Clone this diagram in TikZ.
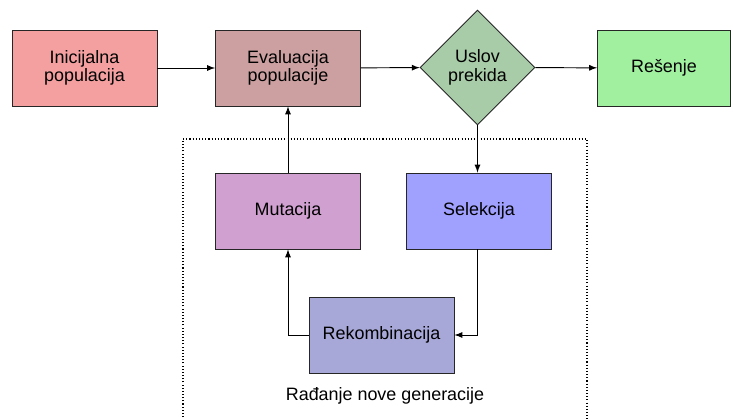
\documentclass[tikz,border=0pt]{standalone}
\usepackage{fontspec}
\setmainfont{Liberation Sans}
\usepackage{tikz}
\usetikzlibrary{shapes.geometric}

\definecolor{inicol}{HTML}{F4A0A0}
\definecolor{evalcol}{HTML}{CCA0A0}
\definecolor{uslovcol}{HTML}{A8CCA8}
\definecolor{rescol}{HTML}{A0F0A0}
\definecolor{mutcol}{HTML}{D0A0D0}
\definecolor{selcol}{HTML}{A0A0FF}
\definecolor{rekcol}{HTML}{A8A8D8}

\begin{document}
\begin{tikzpicture}[>=latex, line width=0.55pt,
    box/.style={draw=black!85, rectangle, minimum width=2.9cm, minimum height=1.52cm,
      align=center, font=\fontsize{10.2}{10.5}\selectfont},
    cond/.style={draw=black!85, diamond, minimum width=2.3cm, minimum height=2.3cm,
      inner sep=0pt, align=center, font=\fontsize{10.2}{10.5}\selectfont}]
    \useasboundingbox (0, 0) rectangle (14.66, 8.36);
    \draw [dash pattern=on 0.6pt off 1.2pt, line width=0.6pt] (3.66, -0.3) |- (11.74, 5.58) -- (11.74, -0.3);
    \node [box, fill=inicol] (ini) at (1.69, 7.00) {Inicijalna\\populacija};
    \node [box, fill=evalcol] (eval) at (5.76, 7.00) {Evaluacija\\populacije};
    \node [cond, fill=uslovcol] (uslov) at (9.55, 7.01) {Uslov\\prekida};
    \node [box, fill=rescol, minimum width=2.66cm] (res) at (13.28, 7.00) {Rešenje};
    \node [box, fill=mutcol] (mut) at (5.76, 4.14) {Mutacija};
    \node [box, fill=selcol] (sel) at (9.58, 4.14) {Selekcija};
    \node [box, fill=rekcol] (rek) at (7.63, 1.66) {Rekombinacija};
    \node [font=\fontsize{10.2}{12}\selectfont] (gen) at (7.70, 0.44) {Rađanje nove generacije};
    \draw [->] (ini) to (eval);
    \draw [->] (eval) to (uslov);
    \draw [->] (uslov) to (res);
    \draw [->] (uslov.south) to (uslov.south |- sel.north);
    \draw [->] (uslov.south |- sel.south) |- (rek.east);
    \draw [->] (rek.west) -| (mut.south);
    \draw [->] (mut) to (eval);
\end{tikzpicture}
\end{document}
